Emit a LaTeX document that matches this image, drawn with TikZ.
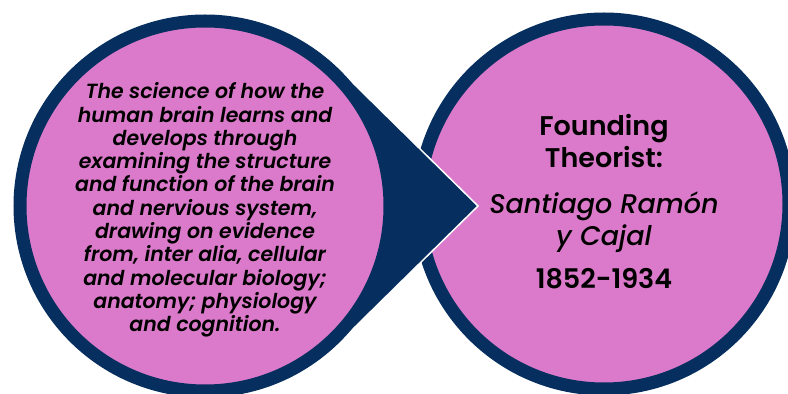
\documentclass[tikz,border=0pt]{standalone}
\usepackage{fontspec}
\setmainfont{Poppins}
\newfontfamily\blurbfont{Poppins SemiBold Italic}
\newfontfamily\titlefont{Poppins SemiBold}
\newfontfamily\namefont{Poppins Medium Italic}
\usetikzlibrary{positioning, calc}
\definecolor{navyblue}{RGB}{6,46,94}
\definecolor{orchid}{RGB}{219,122,202}

\begin{document}
\begin{tikzpicture}[x=1pt, y=1pt,
    ring/.style={circle, draw=navyblue, line width=13pt, fill=orchid,
      minimum size=370pt, inner sep=0pt},
    blurb/.style={align=center, text=black,
      font=\blurbfont\fontsize{20.5}{23.3}\selectfont},
    title/.style={align=center, text=black,
      font=\titlefont\fontsize{27}{32}\selectfont}]
   \useasboundingbox (0,0) rectangle (788,394);
   \clip (0,0) rectangle (788,394);

   % right circle
   \node[ring] (theorist) at (604,190) {};

   % left circle with its pointer
   \coordinate (c_0) at (205,188);
   \coordinate (tip) at (478,188);
   \path[fill=navyblue, draw=white, line width=1.5pt, line join=miter]
     (tip) -- ([shift={(c_0)}]45.45:191.5)
     arc[start angle=45.45, end angle=314.55, radius=191.5] -- cycle;
   \node[ring] (science) at (c_0) {};

   % texts
   \node[blurb] (defn) at ([yshift=-4pt]science) {The science of how the\\
     human brain learns and\\ develops through\\
     examining the structure\\ and function of the brain\\
     and nervious system,\\ drawing on evidence\\
     from, inter alia, cellular\\ and molecular biology;\\
     anatomy; physiology\\ and cognition.};
   \node[title] (name) at ([yshift=2pt]theorist) {Founding\\ Theorist:\\[14pt]
     {\namefont Santiago Ramón}\\ {\namefont y Cajal}\\[11pt]
     1852-1934};
\end{tikzpicture}
\end{document}
